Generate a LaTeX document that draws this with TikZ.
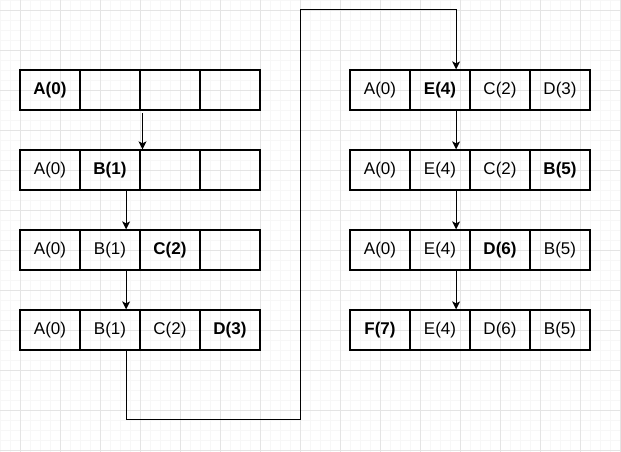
\documentclass[tikz,border=0pt]{standalone}
\usepackage{fontspec}
\setmainfont{Liberation Sans}
\usetikzlibrary{arrows.meta}

\definecolor{gridmajor}{HTML}{E4E4E4}
\definecolor{gridminor}{HTML}{F7F7F7}

\tikzset{
	cell/.style={draw, line width=1.3pt, minimum width=60pt, minimum height=40pt, inner sep=0pt, font=\fontsize{17}{20}\selectfont},
	hl/.style={cell, font=\fontsize{17}{20}\selectfont\bfseries},
	arr/.style={line width=1.1pt, -{Stealth[length=8pt, width=8pt, inset=2pt]}},
}

\begin{document}
\begin{tikzpicture}[x=1pt, y=-1pt]
\useasboundingbox (0,0) rectangle (621,452);
\fill[white] (0,0) rectangle (621,452);
\foreach \x in {0,10,...,620} \draw[gridminor, line width=0.5pt] (\x,0) -- (\x,452);
\foreach \y in {0,10,...,450} \draw[gridminor, line width=0.5pt] (0,\y) -- (621,\y);
\foreach \x in {20,60,...,620} \draw[gridmajor, line width=0.8pt] (\x,0) -- (\x,452);
\foreach \y in {10,50,...,450} \draw[gridmajor, line width=0.8pt] (0,\y) -- (621,\y);

% left column
\node[hl] (l11) at (50, 90) {A(0)};
\node[cell] (l12) at (110, 90) {};
\node[cell] (l13) at (170, 90) {};
\node[cell] (l14) at (230, 90) {};

\node[cell] (l21) at (50, 170) {A(0)};
\node[hl] (l22) at (110, 170) {B(1)};
\node[cell] (l23) at (170, 170) {};
\node[cell] (l24) at (230, 170) {};

\node[cell] (l31) at (50, 250) {A(0)};
\node[cell] (l32) at (110, 250) {B(1)};
\node[hl] (l33) at (170, 250) {C(2)};
\node[cell] (l34) at (230, 250) {};

\node[cell] (l41) at (50, 330) {A(0)};
\node[cell] (l42) at (110, 330) {B(1)};
\node[cell] (l43) at (170, 330) {C(2)};
\node[hl] (l44) at (230, 330) {D(3)};

% right column
\node[cell] (r11) at (380, 90) {A(0)};
\node[hl] (r12) at (440, 90) {E(4)};
\node[cell] (r13) at (500, 90) {C(2)};
\node[cell] (r14) at (560, 90) {D(3)};

\node[cell] (r21) at (380, 170) {A(0)};
\node[cell] (r22) at (440, 170) {E(4)};
\node[cell] (r23) at (500, 170) {C(2)};
\node[hl] (r24) at (560, 170) {B(5)};

\node[cell] (r31) at (380, 250) {A(0)};
\node[cell] (r32) at (440, 250) {E(4)};
\node[hl] (r33) at (500, 250) {D(6)};
\node[cell] (r34) at (560, 250) {B(5)};

\node[hl] (r41) at (380, 330) {F(7)};
\node[cell] (r42) at (440, 330) {E(4)};
\node[cell] (r43) at (500, 330) {D(6)};
\node[cell] (r44) at (560, 330) {B(5)};

\coordinate (s1) at (142.5, 113);
\coordinate (bend1) at (300.5, 419.5);
\coordinate (bend2) at (300.5, 9.5);

\draw[arr] (s1) -- (s1 |- l23.north);
\draw[arr] ([xshift=-14.5pt]l22.south east) -- ([xshift=-14.5pt]l32.north east);
\draw[arr] ([xshift=-14.5pt]l32.south east) -- ([xshift=-14.5pt]l42.north east);
\draw[arr] ([xshift=-14.5pt]l42.south east) |- (bend1) -- (bend2) -| ([xshift=-14.5pt]r12.north east);
\draw[arr] ([xshift=-14.5pt]r12.south east) -- ([xshift=-14.5pt]r22.north east);
\draw[arr] ([xshift=-14.5pt]r22.south east) -- ([xshift=-14.5pt]r32.north east);
\draw[arr] ([xshift=-14.5pt]r32.south east) -- ([xshift=-14.5pt]r42.north east);
\end{tikzpicture}
\end{document}
